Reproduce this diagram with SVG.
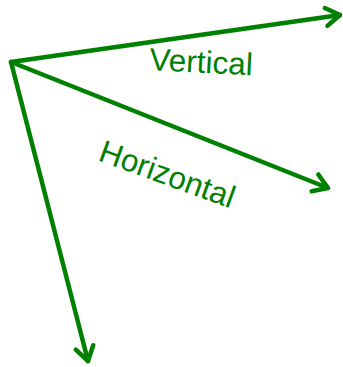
<svg xmlns="http://www.w3.org/2000/svg" width="343" height="367" viewBox="0 0 343 367">
<style>
.ln{stroke:#008000;stroke-width:4.5;fill:none;stroke-linecap:round}
.lb{fill:#008000;font-family:"Liberation Sans",Arial,sans-serif;font-size:31.5px}
</style>
<defs>
<marker id="ah" markerUnits="userSpaceOnUse" markerWidth="30" markerHeight="30" viewBox="-20 -15 30 30" refX="0" refY="0" orient="auto">
<path d="M-14,-9 L0,0 L-14,9" fill="none" stroke="#008000" stroke-width="4.5" stroke-linecap="round" stroke-linejoin="round"/>
</marker>
</defs>
<rect width="343" height="367" fill="#fff"/>
<g id="connectors">
<line class="ln" x1="11" y1="62" x2="340" y2="15" marker-end="url(#ah)"/>
<line class="ln" x1="11" y1="62" x2="328" y2="188" marker-end="url(#ah)"/>
<line class="ln" x1="11" y1="62" x2="88" y2="361" marker-end="url(#ah)"/>
</g>
<g id="vertical"><text class="lb" x="149" y="70" transform="rotate(3 149 70)">Vertical</text></g>
<g id="horizontal"><text class="lb" x="97" y="160" transform="rotate(20 97 160)">Horizontal</text></g>
</svg>
